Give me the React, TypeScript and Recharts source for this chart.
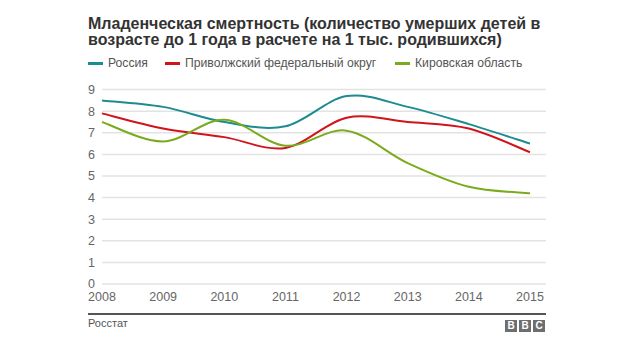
import React from "react";
import { LineChart, Line, XAxis, YAxis, CartesianGrid } from "recharts";

const years = [2008, 2009, 2010, 2011, 2012, 2013, 2014, 2015];
const russia = [8.5, 8.2, 7.5, 7.3, 8.7, 8.2, 7.4, 6.5];
const volga = [7.9, 7.2, 6.8, 6.3, 7.7, 7.5, 7.2, 6.1];
const kirov = [7.5, 6.6, 7.6, 6.4, 7.1, 5.6, 4.5, 4.2];
const yTicks = [0, 1, 2, 3, 4, 5, 6, 7, 8, 9];

const seriesNames = ["Россия", "Приволжский федеральный округ", "Кировская область"];
const seriesColors = ["#1c8c90", "#d1141b", "#7aab1c"];
const seriesKeys = ["russia", "volga", "kirov"];
const legendLeft = [88, 165, 395];

const titleLine1 = "Младенческая смертность (количество умерших детей в";
const titleLine2 = "возрасте до 1 года в расчете на 1 тыс. родившихся)";
const source = "Росстат";

const data = years.map((y, i) => ({
  year: y,
  russia: russia[i],
  volga: volga[i],
  kirov: kirov[i],
}));

const FONT = "'Liberation Sans', Arial, Helvetica, sans-serif";

// Cardinal (tension 0) spline curve factory, d3-curve compatible
function cardinalCurve(context: any) {
  let pts: number[][] = [];
  return {
    areaStart() {},
    areaEnd() {},
    lineStart() {
      pts = [];
    },
    point(x: number, y: number) {
      pts.push([+x, +y]);
    },
    lineEnd() {
      const n = pts.length;
      if (!n) return;
      context.moveTo(pts[0][0], pts[0][1]);
      if (n === 1) return;
      const k = 1 / 6;
      for (let i = 0; i < n - 1; i++) {
        const p0 = pts[i > 0 ? i - 1 : i];
        const p1 = pts[i];
        const p2 = pts[i + 1];
        const p3 = pts[i + 2 < n ? i + 2 : i + 1];
        const c1x = p1[0] + k * (p2[0] - p0[0]);
        const c1y = p1[1] + k * (p2[1] - p0[1]);
        const c2x = p2[0] - k * (p3[0] - p1[0]);
        const c2y = p2[1] - k * (p3[1] - p1[1]);
        context.bezierCurveTo(c1x, c1y, c2x, c2y, p2[0], p2[1]);
      }
    },
  };
}

export default function App() {
  return (
    <div
      style={{
        position: "absolute",
        left: 0,
        top: 0,
        width: 640,
        height: 360,
        background: "#fff",
        fontFamily: FONT,
        overflow: "hidden",
      }}
    >
      <div
        style={{
          position: "absolute",
          left: 88,
          top: 16,
          fontSize: 16,
          lineHeight: "16px",
          fontWeight: "bold",
          color: "#333",
          whiteSpace: "nowrap",
        }}
      >
        {titleLine1}
        <br />
        {titleLine2}
      </div>
      {seriesNames.map((name, i) => (
        <div
          key={name}
          style={{
            position: "absolute",
            left: legendLeft[i],
            top: 55,
            height: 16,
            display: "flex",
            alignItems: "center",
            fontSize: 12.2,
            color: "#555",
            whiteSpace: "nowrap",
          }}
        >
          <span
            style={{
              display: "inline-block",
              width: 15,
              height: 3,
              background: seriesColors[i],
              marginRight: 5,
            }}
          />
          {name}
        </div>
      ))}
      <div style={{ position: "absolute", left: 0, top: 0 }}>
        <LineChart
          width={640}
          height={360}
          data={data}
          margin={{ top: 89.6, right: 94, bottom: 46, left: 82 }}
        >
          <CartesianGrid vertical={false} stroke="#e3e3e3" strokeWidth={1.5} />
          <XAxis
            dataKey="year"
            type="number"
            domain={[2008, 2015]}
            ticks={years}
            padding={{ left: 0, right: 16 }}
            axisLine={false}
            tickLine={false}
            tickSize={0}
            tickMargin={8}
            height={30}
            tick={{ fill: "#666", fontSize: 12.5, fontFamily: FONT }}
            interval={0}
          />
          <YAxis
            domain={[0, 9]}
            ticks={yTicks}
            axisLine={false}
            tickLine={false}
            tickSize={0}
            tickMargin={7}
            width={20}
            tick={{ fill: "#666", fontSize: 12.5, fontFamily: FONT }}
            interval={0}
          />
          {seriesKeys.map((k, i) => (
            <Line
              key={k}
              dataKey={k}
              type={cardinalCurve as any}
              stroke={seriesColors[i]}
              strokeWidth={2}
              dot={false}
              activeDot={false}
              isAnimationActive={false}
            />
          ))}
        </LineChart>
      </div>
      <div
        style={{
          position: "absolute",
          left: 88,
          top: 313,
          width: 458,
          height: 2,
          background: "#555",
        }}
      />
      <div
        style={{
          position: "absolute",
          left: 88,
          top: 317,
          fontSize: 11,
          color: "#555",
        }}
      >
        {source}
      </div>
      <div style={{ position: "absolute", left: 505, top: 320, display: "flex" }}>
        {["B", "B", "C"].map((c, i) => (
          <div
            key={i}
            style={{
              width: 12,
              height: 12,
              marginLeft: i ? 2 : 0,
              background: "#6e6e6e",
              color: "#fff",
              fontSize: 10,
              fontWeight: "bold",
              lineHeight: "12px",
              textAlign: "center",
            }}
          >
            {c}
          </div>
        ))}
      </div>
    </div>
  );
}
